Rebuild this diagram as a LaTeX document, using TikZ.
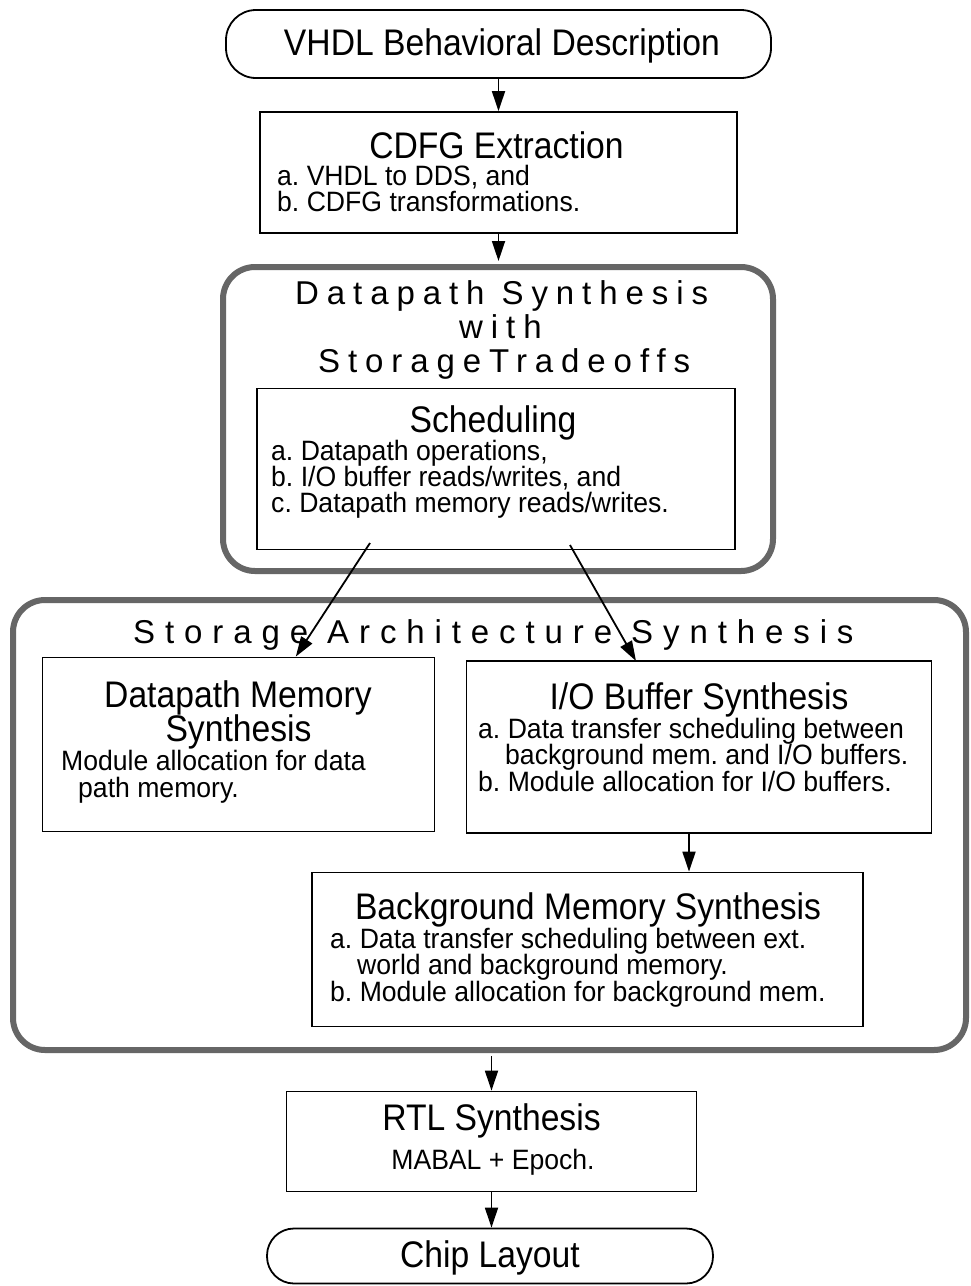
\documentclass[tikz,border=0pt]{standalone}
\usepackage{fontspec}
\setmainfont{Liberation Sans}[FakeStretch=0.95]
\newfontfamily\titlefam{Liberation Sans}[FakeStretch=0.91]
\newfontfamily\spacedfam{Liberation Sans}[LetterSpace=24]
\newfontfamily\widefam{Liberation Sans}[LetterSpace=30]
\usetikzlibrary{arrows.meta}

\begin{document}
\frenchspacing
\begin{tikzpicture}[x=1pt,y=-1pt,
  box/.style={draw=black, line width=1.8pt, rectangle, inner sep=0pt},
  pill/.style={box, rounded corners=30pt},
  frame/.style={draw=black!60, line width=6pt, rectangle, rounded corners=32pt, inner sep=0pt},
  ttl/.style={anchor=base, inner sep=0pt, font=\titlefam\fontsize{37}{34}\selectfont},
  spc/.style={anchor=base west, inner sep=0pt, font=\spacedfam\fontsize{33}{34}\selectfont},
  wspc/.style={anchor=base west, inner sep=0pt, font=\widefam\fontsize{33}{34}\selectfont},
  txt/.style={anchor=base west, inner sep=0pt, font=\fontsize{28}{26.5}\selectfont},
  arr/.style={line width=1.8pt, -{Triangle[length=20pt,width=13pt]}},
]
% page
\fill[white] (0,0) rectangle (970,1286);

% input description
\node[pill, minimum width=545pt, minimum height=68pt] (vhdl) at (498.5,44) {};
\node[ttl] (vhdlt) at (502,55) {VHDL Behavioral Description};

% CDFG extraction
\node[box, minimum width=477pt, minimum height=121pt] (cdfg) at (498.5,172.5) {};
\node[ttl] (cdfgt) at (496.5,158) {CDFG Extraction};
\node[txt] (cdfga) at (277,185) {a. VHDL to DDS, and};
\node[txt] (cdfgb) at (277,211) {b. CDFG transformations.};

% datapath synthesis group
\node[frame, minimum width=550pt, minimum height=304pt] (dps) at (498,419) {};
\node[spc] (dpst1) at (295,304) {Datapath Synthesis};
\node[spc] (dpst2) at (459,338) {with};
\node[spc] (dpst3) at (318,372) {StorageTradeoffs};

\node[box, minimum width=478pt, minimum height=161pt] (sched) at (496,469) {};
\node[ttl] (schedt) at (493,432) {Scheduling};
\node[txt] (scheda) at (271,460) {a. Datapath operations,};
\node[txt] (schedb) at (271,486) {b. I/O buffer reads/writes, and};
\node[txt] (schedc) at (271,512) {c. Datapath memory reads/writes.};

% storage architecture group
\node[frame, minimum width=953pt, minimum height=450pt] (sas) at (489.5,825) {};
\node[wspc] (sast) at (133,643) {Storage Architecture Synthesis};

\node[box, minimum width=392pt, minimum height=174pt] (dpm) at (238.5,744.5) {};
\node[ttl] (dpmt1) at (238,707) {Datapath Memory};
\node[ttl] (dpmt2) at (238.5,741) {Synthesis};
\node[txt] (dpma) at (61,770) {Module allocation for data};
\node[txt] (dpmb) at (78,797) {path memory.};

\node[box, minimum width=465pt, minimum height=172pt] (io) at (699,747) {};
\node[ttl] (iot) at (699,709) {I/O Buffer Synthesis};
\node[txt] (ioa) at (478,738) {a. Data transfer scheduling between};
\node[txt] (iob) at (505,764) {background mem. and I/O buffers.};
\node[txt] (ioc) at (478,791) {b. Module allocation for I/O buffers.};

\node[box, minimum width=551pt, minimum height=154pt] (bg) at (587.5,949.5) {};
\node[ttl] (bgt) at (588,919) {Background Memory Synthesis};
\node[txt] (bga) at (330,948) {a. Data transfer scheduling between ext.};
\node[txt] (bgb) at (357,974) {world and background memory.};
\node[txt] (bgc) at (330,1001) {b. Module allocation for background mem.};

% RTL synthesis and layout
\node[box, minimum width=410pt, minimum height=100pt] (rtl) at (491.5,1141.5) {};
\node[ttl] (rtlt) at (491.5,1130) {RTL Synthesis};
\node[txt, anchor=base] (rtla) at (493,1169) {MABAL + Epoch.};

\node[pill, rounded corners=27pt, minimum width=446pt, minimum height=55pt] (chip) at (490,1256) {};
\node[ttl] (chipt) at (490,1267) {Chip Layout};

% connectors
\coordinate (s1) at (370,543);
\coordinate (s2) at (570,545);
\coordinate (e2) at (636,661);
\draw[arr] (vhdl.south) -- (cdfg.north);
\draw[arr, shorten >=3pt] (cdfg.south) -- (cdfg.south |- dps.north);
\draw[arr] (s1) -- (dpm);
\draw[arr] (s2) -- (e2);
\draw[arr] ([xshift=-10pt]io.south) -- ([xshift=-10pt]io.south |- bg.north);
\draw[arr, shorten <=3pt] (sas.south -| rtl.north) -- (rtl.north);
\draw[arr] (rtl.south) -- (rtl.south |- chip.north);
\end{tikzpicture}
\end{document}
